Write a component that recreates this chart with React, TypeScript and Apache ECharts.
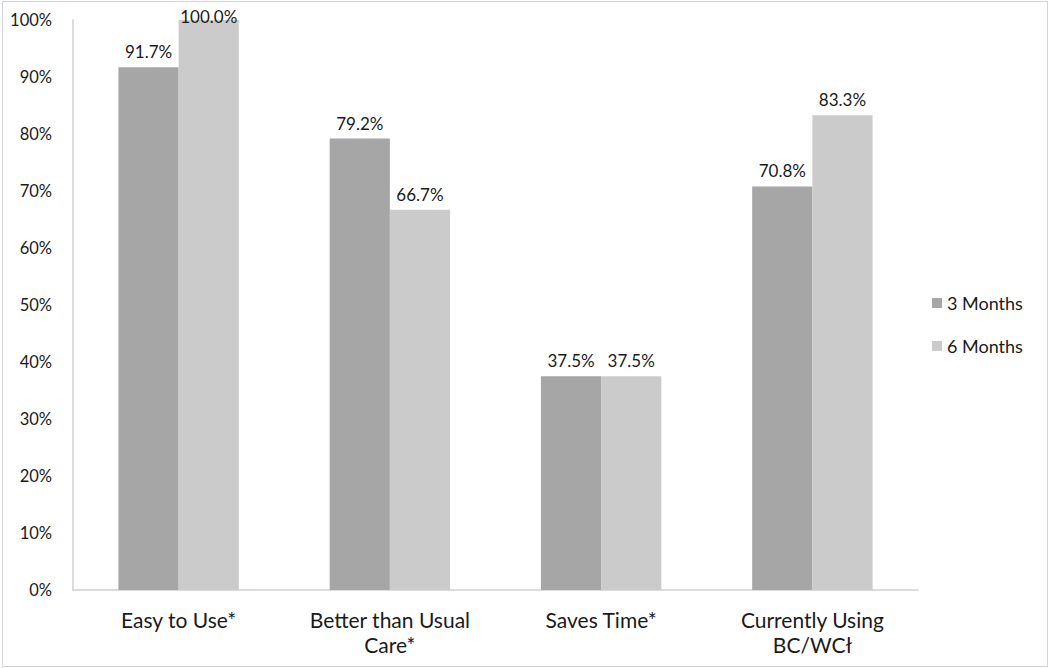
import React, { useEffect, useRef } from "react";
import * as echarts from "echarts";

const categories = ["Easy to Use*", "Better than Usual\nCare*", "Saves Time*", "Currently Using\nBC/WCł"];
const months3 = [91.7, 79.2, 37.5, 70.8];
const months6 = [100.0, 66.7, 37.5, 83.3];
const seriesNames = ["3 Months", "6 Months"];
const yTicks = [0, 10, 20, 30, 40, 50, 60, 70, 80, 90, 100];

const FONT = "Lato, 'Open Sans', sans-serif";
const TXT = "#1a1a1a";

export default function App() {
  const ref = useRef<HTMLDivElement>(null);
  useEffect(() => {
    document.body.style.margin = "0";
    const chart = echarts.init(ref.current!, null, { renderer: "svg" });
    const label = {
      show: true,
      position: "top" as const,
      distance: 7,
      color: TXT,
      fontFamily: FONT,
      fontSize: 17,
      formatter: (p: any) => p.value.toFixed(1) + "%",
    };
    // a label at the very top of the plot sits lower, as in the reference
    const toData = (arr: number[]) =>
      arr.map((v) => (v >= 100 ? { value: v, label: { distance: -5 } } : v));
    chart.setOption({
      animation: false,
      backgroundColor: "#ffffff",
      textStyle: { fontFamily: FONT },
      grid: { left: 73, right: 132, top: 20, bottom: 78, containLabel: false },
      legend: {
        orient: "vertical",
        left: 927,
        top: 288,
        itemWidth: 10,
        itemHeight: 10,
        itemGap: 23,
        icon: "rect",
        data: seriesNames,
        textStyle: { color: TXT, fontFamily: FONT, fontSize: 18, lineHeight: 20 },
      },
      xAxis: {
        type: "category",
        data: categories,
        axisLine: { show: true, lineStyle: { color: "#d0d0d0", width: 1.5 } },
        axisTick: { show: false },
        axisLabel: { color: TXT, fontFamily: FONT, fontSize: 21, lineHeight: 25, margin: 17, interval: 0 },
      },
      yAxis: {
        type: "value",
        min: yTicks[0],
        max: yTicks[yTicks.length - 1],
        interval: 10,
        axisLine: { show: true, lineStyle: { color: "#d0d0d0", width: 1.5 } },
        axisTick: { show: false },
        splitLine: { show: false },
        axisLabel: { color: TXT, fontFamily: FONT, fontSize: 16.5, margin: 21, formatter: "{value}%" },
      },
      series: [
        {
          name: seriesNames[0],
          type: "bar",
          data: toData(months3),
          barGap: "0%",
          barCategoryGap: "43%",
          itemStyle: { color: "#a6a6a6" },
          label,
        },
        {
          name: seriesNames[1],
          type: "bar",
          data: toData(months6),
          barGap: "0%",
          barCategoryGap: "43%",
          itemStyle: { color: "#cbcbcb" },
          label,
        },
      ],
    });
    return () => chart.dispose();
  }, []);
  return (
    <div style={{ position: "relative", width: 1050, height: 668 }}>
      <div ref={ref} style={{ width: 1050, height: 668 }} />
      <div
        style={{
          position: "absolute",
          left: 2,
          top: 1,
          width: 1046,
          height: 666,
          boxSizing: "border-box",
          border: "1px solid #d4d4d4",
          pointerEvents: "none",
        }}
      />
    </div>
  );
}
